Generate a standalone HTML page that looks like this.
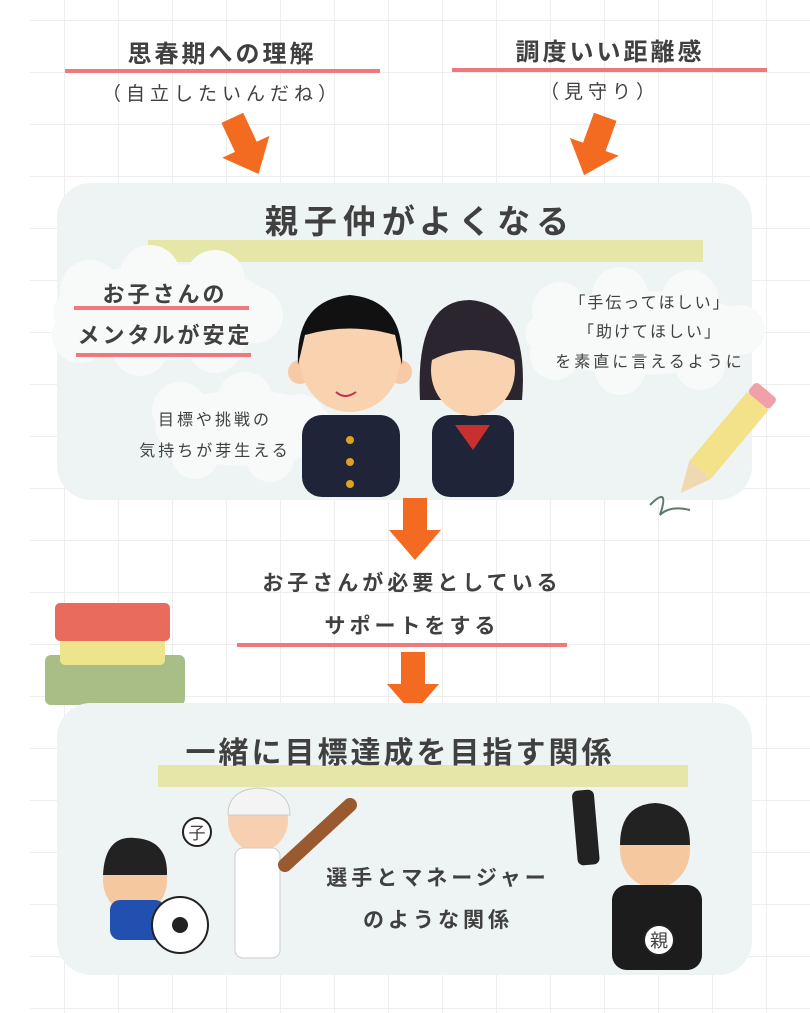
<!DOCTYPE html>
<html><head><meta charset="utf-8"><style>
body{margin:0;width:810px;height:1013px;overflow:hidden;background:#fff}
svg{display:block}
text{font-family:"Liberation Sans","Noto Sans CJK JP",sans-serif;fill:#404040}
</style></head><body>
<svg width="810" height="1013" viewBox="0 0 810 1013">
<defs>
<pattern id="g" x="10" y="20" width="54" height="52" patternUnits="userSpaceOnUse">
<path d="M0 0H54M0 0V52" stroke="#e9e9e9" stroke-width="1.5" fill="none"/>
</pattern>
<g id="arr"><path d="M-12 -30 H12 V2 H26 L0 32 L-26 2 H-12 Z" fill="#f26b21"/></g>
</defs>
<rect x="30" y="0" width="780" height="1013" fill="url(#g)"/>

<text x="222" y="62" font-size="24" text-anchor="middle" letter-spacing="3" font-weight="bold">思春期への理解</text>
<rect x="65" y="69" width="315" height="4" fill="#ef787c"/>
<text x="222" y="100" font-size="19" text-anchor="middle" letter-spacing="5">（自立したいんだね）</text>
<text x="610" y="60" font-size="24" text-anchor="middle" letter-spacing="3" font-weight="bold">調度いい距離感</text>
<rect x="452" y="68" width="315" height="4" fill="#ef787c"/>
<text x="600" y="98" font-size="19" text-anchor="middle" letter-spacing="5">（見守り）</text>
<use href="#arr" transform="translate(245,145) rotate(-25)"/>
<use href="#arr" transform="translate(595,145) rotate(20)"/>

<rect x="57" y="183" width="695" height="317" rx="34" fill="#eef3f3"/>
<rect x="148" y="240" width="555" height="22" fill="#e5e6a8"/>
<text x="420" y="233" font-size="33" font-weight="bold" text-anchor="middle" letter-spacing="6">親子仲がよくなる</text>

<g fill="#f8f9f9">
<ellipse cx="165" cy="312" rx="112" ry="48"/>
<circle cx="90" cy="290" r="30"/><circle cx="150" cy="275" r="30"/><circle cx="215" cy="280" r="30"/><circle cx="255" cy="315" r="28"/><circle cx="215" cy="345" r="28"/><circle cx="140" cy="348" r="28"/><circle cx="80" cy="335" r="28"/>
<ellipse cx="245" cy="428" rx="90" ry="38"/>
<circle cx="180" cy="410" r="28"/><circle cx="245" cy="400" r="28"/><circle cx="300" cy="420" r="26"/><circle cx="270" cy="458" r="24"/><circle cx="195" cy="455" r="24"/>
<ellipse cx="640" cy="333" rx="115" ry="42"/>
<circle cx="560" cy="310" r="28"/><circle cx="620" cy="295" r="28"/><circle cx="690" cy="298" r="28"/><circle cx="740" cy="330" r="25"/><circle cx="700" cy="365" r="25"/><circle cx="620" cy="370" r="25"/><circle cx="555" cy="355" r="25"/>
</g>
<text x="165" y="302" font-size="22" text-anchor="middle" letter-spacing="3" font-weight="bold">お子さんの</text>
<rect x="74" y="306" width="175" height="4" fill="#ef787c"/>
<text x="165" y="343" font-size="22" text-anchor="middle" letter-spacing="3" font-weight="bold">メンタルが安定</text>
<rect x="76" y="353" width="175" height="4" fill="#ef787c"/>
<text x="215" y="425" font-size="16" text-anchor="middle" letter-spacing="3">目標や挑戦の</text>
<text x="215" y="456" font-size="16" text-anchor="middle" letter-spacing="3">気持ちが芽生える</text>
<text x="650" y="308" font-size="16" text-anchor="middle" letter-spacing="2">「手伝ってほしい」</text>
<text x="650" y="337" font-size="16" text-anchor="middle" letter-spacing="2">「助けてほしい」</text>
<text x="650" y="367" font-size="16" text-anchor="middle" letter-spacing="3">を素直に言えるように</text>

<rect x="302" y="415" width="98" height="82" rx="20" fill="#1f2439"/>
<circle cx="350" cy="440" r="4" fill="#e0a020"/><circle cx="350" cy="462" r="4" fill="#e0a020"/><circle cx="350" cy="484" r="4" fill="#e0a020"/>
<circle cx="300" cy="372" r="12" fill="#f7c9a6"/><circle cx="400" cy="372" r="12" fill="#f7c9a6"/>
<ellipse cx="350" cy="360" rx="50" ry="52" fill="#f9d3b0"/>
<path d="M298 365 Q295 300 350 295 Q405 300 402 365 L395 335 Q350 322 305 335 Z" fill="#111"/>
<path d="M336 392 Q345 400 356 392" stroke="#c03050" stroke-width="2" fill="none"/>
<path d="M420 400 Q415 300 470 300 Q530 305 522 400 Z" fill="#2b2530"/>
<rect x="432" y="415" width="82" height="82" rx="18" fill="#1f2439"/>
<path d="M455 425 L473 450 L490 425 Z" fill="#c83030"/>
<ellipse cx="473" cy="370" rx="42" ry="46" fill="#f9d3b0"/>
<path d="M432 360 Q440 315 473 316 Q510 318 514 360 Q470 340 432 360 Z" fill="#2b2530"/>
<g transform="translate(700,470) rotate(-50)">
<rect x="0" y="-14" width="90" height="28" fill="#f3e28a"/>
<polygon points="0,-14 -30,0 0,14" fill="#f0d8b0"/>
<rect x="90" y="-14" width="14" height="28" rx="4" fill="#f2a0a8"/>
</g>
<path d="M650 505 q20 -20 10 10 q10 -10 30 -5" stroke="#5a7a6a" stroke-width="2" fill="none"/>

<use href="#arr" transform="translate(415,528)"/>
<text x="412" y="590" font-size="21" text-anchor="middle" letter-spacing="4" font-weight="bold">お子さんが必要としている</text>
<text x="412" y="633" font-size="21" text-anchor="middle" letter-spacing="4" font-weight="bold">サポートをする</text>
<rect x="237" y="643" width="330" height="4" fill="#ef787c"/>
<use href="#arr" transform="translate(413,682)"/>

<rect x="45" y="655" width="140" height="50" rx="6" fill="#a9be86"/>
<rect x="60" y="630" width="105" height="35" rx="5" fill="#ece58c"/>
<rect x="55" y="603" width="115" height="38" rx="5" fill="#e96b5e"/>

<rect x="57" y="703" width="695" height="272" rx="34" fill="#eef3f3"/>
<rect x="158" y="765" width="530" height="22" fill="#e5e6a8"/>
<text x="400" y="763" font-size="30" font-weight="bold" text-anchor="middle" letter-spacing="3">一緒に目標達成を目指す関係</text>
<text x="438" y="885" font-size="21" text-anchor="middle" letter-spacing="4" font-weight="bold">選手とマネージャー</text>
<text x="438" y="927" font-size="21" text-anchor="middle" letter-spacing="4" font-weight="bold">のような関係</text>

<ellipse cx="135" cy="880" rx="32" ry="35" fill="#f6c8a0"/>
<path d="M103 875 Q105 835 135 838 Q168 840 167 875 Z" fill="#222"/>
<rect x="110" y="900" width="55" height="40" rx="10" fill="#2250b0"/>
<circle cx="180" cy="925" r="28" fill="#fff" stroke="#222" stroke-width="2"/>
<circle cx="180" cy="925" r="8" fill="#222"/>
<circle cx="197" cy="832" r="14" fill="#fff" stroke="#222" stroke-width="2"/>
<text x="197" y="839" font-size="17" text-anchor="middle" fill="#222">子</text>
<ellipse cx="258" cy="820" rx="30" ry="32" fill="#f6d0b0"/>
<path d="M228 815 Q228 790 258 788 Q290 790 290 815 Z" fill="#f4f4f4" stroke="#ccc"/>
<rect x="235" y="848" width="45" height="110" rx="8" fill="#fff" stroke="#ccc"/>
<path d="M285 865 L350 805" stroke="#9a5a30" stroke-width="14" stroke-linecap="round"/>
<rect x="575" y="790" width="22" height="75" rx="6" fill="#222" transform="rotate(-5 586 830)"/>
<ellipse cx="655" cy="850" rx="35" ry="38" fill="#f6c8a0"/>
<path d="M620 845 Q620 805 655 803 Q690 805 690 845 Z" fill="#222"/>
<rect x="612" y="885" width="90" height="85" rx="15" fill="#1c1c1c"/>
<circle cx="659" cy="940" r="15" fill="#fff" stroke="#222" stroke-width="2"/>
<text x="659" y="947" font-size="18" text-anchor="middle" fill="#222">親</text>
</svg>
</body></html>
